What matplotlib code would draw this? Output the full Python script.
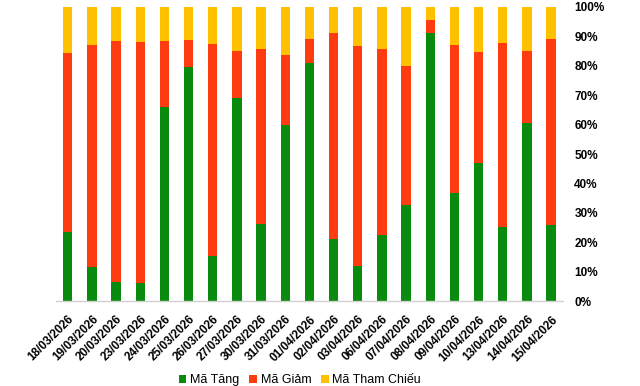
import matplotlib
matplotlib.use("Agg")
import matplotlib.pyplot as plt
from matplotlib.ticker import PercentFormatter, MultipleLocator
import numpy as np

plt.rcParams['font.family'] = ['Liberation Sans', 'DejaVu Sans']

dates = ["18/03/2026", "19/03/2026", "20/03/2026", "23/03/2026", "24/03/2026",
         "25/03/2026", "26/03/2026", "27/03/2026", "30/03/2026", "31/03/2026",
         "01/04/2026", "02/04/2026", "03/04/2026", "06/04/2026", "07/04/2026",
         "08/04/2026", "09/04/2026", "10/04/2026", "13/04/2026", "14/04/2026",
         "15/04/2026"]
ma_tang = [23.6, 11.7, 6.6, 6.2, 66.1, 79.7, 15.4, 69.2, 26.3, 60.0,
           81.1, 21.2, 12.0, 22.6, 32.8, 91.3, 36.8, 47.0, 25.3, 60.6, 26.0]
ma_giam_top = [84.5, 87.2, 88.5, 88.2, 88.5, 88.9, 87.5, 85.1, 85.8, 83.8,
               89.2, 91.3, 86.8, 85.8, 80.0, 95.7, 87.2, 84.8, 87.9, 85.1, 89.2]
ma_giam = [round(t - g, 1) for t, g in zip(ma_giam_top, ma_tang)]
ma_tham_chieu = [round(100 - t, 1) for t in ma_giam_top]

c_green = "#0B8A10"
c_red = "#FF3B12"
c_yellow = "#FFC000"

fig = plt.figure(figsize=(6.4, 3.86), dpi=100)
ax = fig.add_axes([0.087, 0.220, 0.793, 0.762])

x = np.arange(len(dates))
w = 0.39
ax.bar(x, ma_tang, w, color=c_green, label="Mã Tăng")
ax.bar(x, ma_giam, w, bottom=ma_tang, color=c_red, label="Mã Giảm")
ax.bar(x, ma_tham_chieu, w, bottom=np.array(ma_tang) + np.array(ma_giam),
       color=c_yellow, label="Mã Tham Chiếu")

ax.set_xlim(-0.5, len(dates) - 0.5)
ax.set_ylim(0, 100)
ax.yaxis.set_major_locator(MultipleLocator(10))
ax.yaxis.set_major_formatter(PercentFormatter(decimals=0))
ax.yaxis.tick_right()
ax.tick_params(axis='y', length=0, pad=8, labelsize=8.5)
for lbl in ax.get_yticklabels():
    lbl.set_fontweight('bold')

ax.set_xticks(x)
ax.set_xticklabels(dates, rotation=45, ha='right', rotation_mode='anchor',
                   fontsize=8.5, fontweight='bold')
ax.tick_params(axis='x', length=0, pad=9)

for s in ['top', 'left', 'right']:
    ax.spines[s].set_visible(False)
ax.spines['bottom'].set_color('#D0D0D0')
ax.spines['bottom'].set_linewidth(1.0)

fig.legend(loc='center', bbox_to_anchor=(300 / 640, 6 / 386), ncol=3, frameon=False,
           fontsize=9, handlelength=0.6, handleheight=0.6, handletextpad=0.3,
           columnspacing=0.8)

fig.savefig("out.png", dpi=100)
